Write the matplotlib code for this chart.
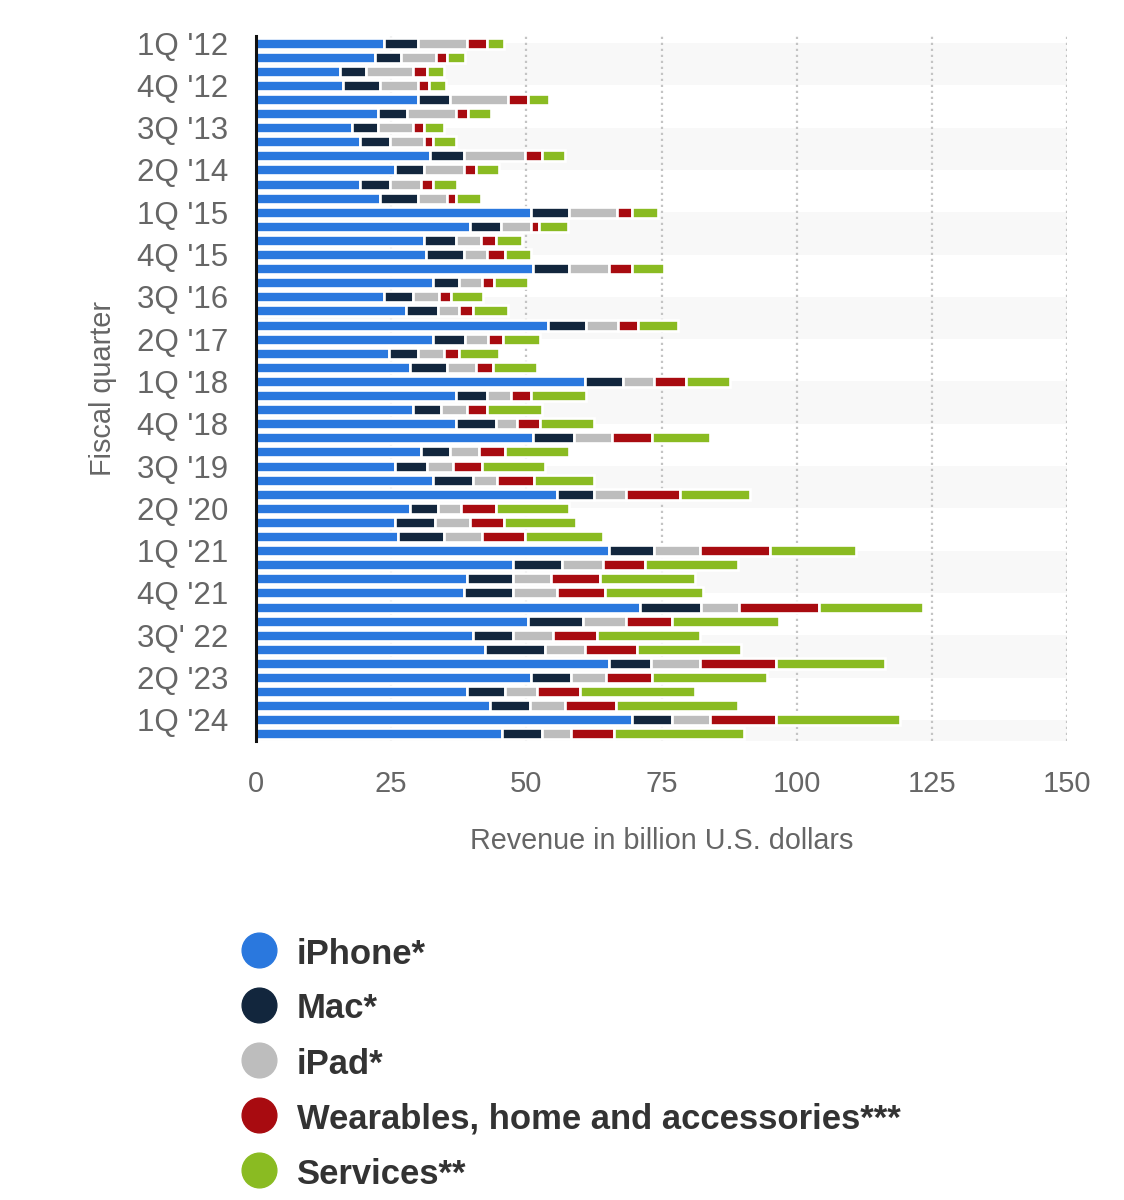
import numpy as np
import matplotlib
matplotlib.use("Agg")
import matplotlib.pyplot as plt
from matplotlib.lines import Line2D

plt.rcParams["font.family"] = ["Liberation Sans", "DejaVu Sans"]

# Apple revenue by product category, fiscal 1Q '12 - 2Q '24 (billion USD)
quarters = [
    "1Q '12", "2Q '12", "3Q '12", "4Q '12",
    "1Q '13", "2Q '13", "3Q '13", "4Q '13",
    "1Q '14", "2Q '14", "3Q '14", "4Q '14",
    "1Q '15", "2Q '15", "3Q '15", "4Q '15",
    "1Q '16", "2Q '16", "3Q '16", "4Q '16",
    "1Q '17", "2Q '17", "3Q '17", "4Q '17",
    "1Q '18", "2Q '18", "3Q '18", "4Q '18",
    "1Q '19", "2Q '19", "3Q '19", "4Q '19",
    "1Q '20", "2Q '20", "3Q '20", "4Q '20",
    "1Q '21", "2Q '21", "3Q '21", "4Q '21",
    "1Q '22", "2Q '22", "3Q' 22", "4Q '22",
    "1Q '23", "2Q '23", "3Q '23", "4Q '23",
    "1Q '24", "2Q '24",
]

iphone = [23.6, 22.0, 15.6, 16.1, 30.0, 22.5, 17.7, 19.3, 32.1, 25.7, 19.3, 23.0,
          50.8, 39.6, 31.0, 31.5, 51.3, 32.7, 23.6, 27.8, 54.0, 32.7, 24.6, 28.4,
          60.9, 36.9, 29.0, 36.9, 51.3, 30.5, 25.7, 32.7, 55.6, 28.4, 25.7, 26.3,
          65.2, 47.6, 39.1, 38.5, 71.1, 50.3, 40.2, 42.3, 65.2, 50.9, 39.1, 43.3,
          69.5, 45.5]
mac = [6.4, 4.8, 4.8, 6.9, 5.9, 5.4, 4.8, 5.4, 6.4, 5.3, 5.4, 7.0,
       7.0, 5.8, 5.9, 7.0, 6.5, 4.8, 5.4, 5.9, 7.0, 5.9, 5.4, 6.9,
       6.9, 5.9, 5.3, 7.5, 7.5, 5.4, 5.9, 7.5, 6.9, 5.3, 7.4, 8.5,
       8.5, 9.0, 8.5, 9.1, 11.2, 10.1, 7.4, 11.1, 7.9, 7.4, 6.9, 7.4,
       7.4, 7.4]
ipad = [9.1, 6.4, 8.6, 7.0, 10.7, 9.1, 6.5, 6.4, 11.2, 7.5, 5.9, 5.3,
        9.0, 5.4, 4.8, 4.3, 7.4, 4.3, 4.8, 3.8, 5.9, 4.3, 4.8, 5.4,
        5.9, 4.3, 4.8, 3.8, 7.0, 5.3, 4.8, 4.3, 5.9, 4.3, 6.4, 7.0,
        8.5, 7.5, 7.0, 8.0, 7.0, 8.1, 7.4, 7.5, 9.1, 6.5, 5.9, 6.5,
        7.0, 5.4]
wearables = [3.7, 2.2, 2.6, 2.0, 3.7, 2.2, 2.1, 1.6, 3.2, 2.1, 2.2, 1.6,
             2.7, 1.6, 2.7, 3.2, 4.3, 2.2, 2.2, 2.7, 3.7, 2.7, 2.7, 3.2,
             5.9, 3.8, 3.7, 4.3, 7.4, 4.8, 5.4, 6.9, 10.1, 6.4, 6.4, 8.0,
             12.8, 7.9, 9.0, 9.0, 14.9, 8.4, 8.0, 9.5, 13.9, 8.5, 8.0, 9.4,
             12.2, 8.0]
services = [3.1, 3.2, 3.2, 3.2, 3.8, 4.3, 3.7, 4.3, 4.3, 4.3, 4.3, 4.8,
            4.8, 5.3, 4.8, 4.8, 5.9, 6.4, 5.9, 6.4, 7.5, 7.0, 7.5, 8.0,
            8.0, 10.1, 10.1, 10.1, 10.8, 11.8, 11.7, 11.2, 12.8, 13.4, 13.3, 14.4,
            16.0, 17.1, 17.6, 18.1, 19.2, 19.8, 19.2, 19.3, 20.3, 21.3, 21.3, 22.5,
            23.0, 24.0]

series_names = ["iPhone*", "Mac*", "iPad*",
                "Wearables, home and accessories***", "Services**"]
series = [iphone, mac, ipad, wearables, services]
colors = ["#2a78de", "#12263d", "#bdbdbd", "#a80b10", "#8abb22"]

W, H = 1124, 1200
fig = plt.figure(figsize=(W / 100, H / 100), dpi=100)
ax = fig.add_axes([256 / W, 1 - 741 / H, (1067 - 256) / W, 705 / H])

y = np.arange(len(quarters))

# alternating background bands between labelled ticks
for start in range(0, len(quarters), 6):
    ax.axhspan(start, start + 3, color="#f8f8f8", zorder=0, lw=0)

left = np.zeros(len(quarters))
for name, vals, col in zip(series_names, series, colors):
    ax.barh(y, vals, left=left, height=0.78, color=col,
            edgecolor="white", linewidth=1.9, label=name, zorder=3)
    left += np.array(vals)

ax.set_xlim(0, 150)
ax.set_ylim(len(quarters) - 0.5, -0.5)
ax.set_xticks([0, 25, 50, 75, 100, 125, 150])
ax.set_yticks(y[::3])
ax.set_yticklabels(quarters[::3])

ax.grid(axis="x", color="#c4c4c4", linestyle=(0, (1, 1.7)), linewidth=1.6, zorder=1)
ax.set_axisbelow(True)

for side in ["top", "right", "bottom"]:
    ax.spines[side].set_visible(False)
ax.spines["left"].set_linewidth(2.2)
ax.spines["left"].set_color("#111111")
ax.spines["left"].set_zorder(5)

ax.tick_params(axis="y", length=0, pad=20, labelsize=22.5, labelcolor="#666666")
ax.tick_params(axis="x", length=0, pad=21, labelsize=21, labelcolor="#666666")

ax.set_xlabel("Revenue in billion U.S. dollars", fontsize=20.7, color="#666666", labelpad=21)
ax.set_ylabel("Fiscal quarter", fontsize=20.8, color="#666666", labelpad=14)

# legend drawn below the chart
for i, (name, col) in enumerate(zip(series_names, colors)):
    ly = 1 - (950 + 55 * i) / H
    fig.add_artist(Line2D([259 / W], [ly], marker="o", markersize=25, color=col,
                          linestyle="none", transform=fig.transFigure))
    fig.text(297 / W, ly - 4 / H, name, va="center", ha="left", fontsize=24.9,
             fontweight="bold", color="#333333")

fig.savefig("out.png", dpi=100, facecolor="white")
